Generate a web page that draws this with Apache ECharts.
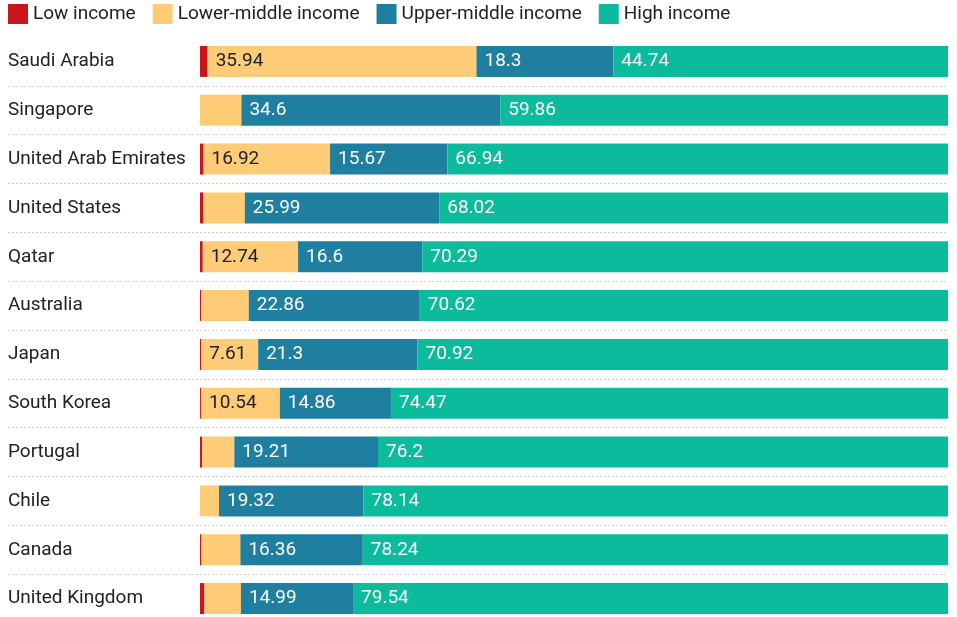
<!DOCTYPE html>
<html>
<head>
<meta charset="utf-8">
<script src="https://cdn.jsdelivr.net/npm/echarts@6/dist/echarts.min.js"></script>
<style>
  html, body { margin: 0; padding: 0; background: #fff; }
  #chart { width: 957px; height: 617px; }
</style>
</head>
<body>
<div id="chart"></div>
<script>
const countries = [
  'Saudi Arabia', 'Singapore', 'United Arab Emirates', 'United States', 'Qatar',
  'Australia', 'Japan', 'South Korea', 'Portugal', 'Chile', 'Canada', 'United Kingdom'
];

// income shares, percent of population
const lowIncome = [1.02, 0, 0.47, 0.45, 0.37, 0.15, 0.17, 0.13, 0.3, 0, 0.2, 0.6];
const lowerMiddle = [35.94, 5.54, 16.92, 5.54, 12.74, 6.37, 7.61, 10.54, 4.29, 2.54, 5.2, 4.87];
const upperMiddle = [18.3, 34.6, 15.67, 25.99, 16.6, 22.86, 21.3, 14.86, 19.21, 19.32, 16.36, 14.99];
const highIncome = [44.74, 59.86, 66.94, 68.02, 70.29, 70.62, 70.92, 74.47, 76.2, 78.14, 78.24, 79.54];

const chart = echarts.init(document.getElementById('chart'));
const font = 'Roboto';
const fontSize = 19;

const barSeries = (name, data, color, textColor, minShown) => ({
  name,
  type: 'bar',
  stack: 'total',
  xAxisIndex: 1,
  yAxisIndex: 1,
  data,
  barWidth: 31,
  itemStyle: { color },
  label: {
    show: minShown !== null,
    position: 'insideLeft',
    distance: 8,
    color: textColor,
    fontFamily: font,
    fontSize,
    formatter: p => (minShown !== null && p.value >= minShown ? String(p.value) : '')
  },
  emphasis: { disabled: true }
});

chart.setOption({
  animation: false,
  color: ['#c9161c', '#fecb77', '#1f7fa0', '#0bbb9c'],
  legend: {
    left: 8,
    top: 4,
    padding: 0,
    icon: 'rect',
    itemWidth: 20,
    itemHeight: 20,
    itemGap: 17,
    textStyle: { fontFamily: font, fontSize, color: '#222' },
    data: ['Low income', 'Lower-middle income', 'Upper-middle income', 'High income']
  },
  grid: [
    { left: 8, right: 9, top: 37, height: 586, outerBoundsMode: 'none' },
    { left: 200, right: 9, top: 37, height: 586, outerBoundsMode: 'none' }
  ],
  xAxis: [
    { gridIndex: 0, type: 'value', min: 0, max: 100, show: false },
    { gridIndex: 1, type: 'value', min: 0, max: 100, show: false }
  ],
  yAxis: [
    {
      gridIndex: 0,
      type: 'category',
      inverse: true,
      data: countries,
      axisLine: { show: false },
      axisTick: { show: false },
      axisLabel: {
        inside: true,
        margin: 0,
        align: 'left',
        color: '#222',
        fontFamily: font,
        fontSize
      },
      splitLine: {
        show: true,
        showMinLine: false,
        showMaxLine: false,
        lineStyle: { color: '#cfcfcf', type: [2, 2], width: 1 }
      }
    },
    {
      gridIndex: 1,
      type: 'category',
      inverse: true,
      data: countries,
      show: false
    }
  ],
  series: [
    barSeries('Low income', lowIncome, '#c9161c', '#fff', null),
    barSeries('Lower-middle income', lowerMiddle, '#fecb77', '#222', 7),
    barSeries('Upper-middle income', upperMiddle, '#1f7fa0', '#fff', 0),
    barSeries('High income', highIncome, '#0bbb9c', '#fff', 0)
  ]
});
</script>
</body>
</html>
